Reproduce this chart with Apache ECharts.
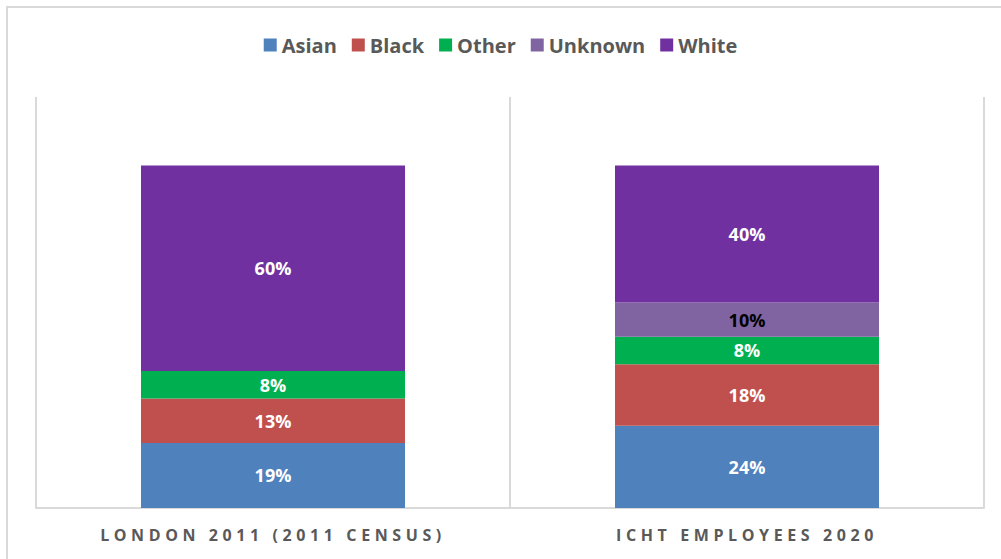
<!DOCTYPE html>
<html>
<head>
<meta charset="utf-8">
<script src="https://cdn.jsdelivr.net/npm/echarts@6/dist/echarts.min.js"></script>
<style>
  html, body { margin: 0; padding: 0; background: #fff; }
  #chart { width: 1001px; height: 559px; }
  /* spaced-out category labels */
  #chart text[style*="16px"] { letter-spacing: 4.6px; }
</style>
</head>
<body>
<div id="chart"></div>
<script>
const categories = ['LONDON 2011 (2011 CENSUS)', 'ICHT EMPLOYEES 2020']
const asian = [19, 24]
const black = [13, 18]
const other = [8, 8]
const unknown = ['-', 10]
const white = [60, 40]

const colors = {
  Asian: '#4f81bd',
  Black: '#c0504d',
  Other: '#00b050',
  Unknown: '#8064a2',
  White: '#7030a0'
}

const makeSeries = (name, data, labelColor) => ({
  name,
  type: 'bar',
  stack: 'total',
  data,
  barWidth: '55.7%',
  itemStyle: { color: colors[name] },
  label: {
    show: true,
    formatter: '{c}%',
    color: labelColor || '#fff',
    fontFamily: 'Open Sans',
    fontWeight: 'bold',
    fontSize: 18
  }
})

const chart = echarts.init(document.getElementById('chart'), null, { renderer: 'svg' })

chart.setOption({
  animation: false,
  backgroundColor: '#fff',
  graphic: [{
    type: 'rect',
    shape: { x: 7, y: 7, width: 1100, height: 700 },
    style: { fill: 'none', stroke: '#d9d9d9', lineWidth: 2 },
    silent: true
  }],
  legend: {
    top: 30,
    left: 'center',
    itemWidth: 13,
    itemHeight: 13,
    itemGap: 15,
    icon: 'rect',
    textStyle: {
      color: '#595959',
      fontFamily: 'Open Sans',
      fontWeight: 'bold',
      fontSize: 20
    },
    data: ['Asian', 'Black', 'Other', 'Unknown', 'White']
  },
  grid: { left: 36, right: 17, top: 97, bottom: 51 },
  xAxis: {
    type: 'category',
    data: categories,
    axisLine: { show: true, lineStyle: { color: '#d9d9d9', width: 2 } },
    axisTick: { show: false },
    splitLine: { show: true, lineStyle: { color: '#d9d9d9', width: 2 } },
    axisLabel: {
      color: '#595959',
      fontFamily: 'Open Sans',
      fontWeight: 'bold',
      fontSize: 16,
      margin: 19
    }
  },
  yAxis: {
    type: 'value',
    min: 0,
    max: 120,
    show: false,
    splitLine: { show: false }
  },
  series: [
    makeSeries('Asian', asian),
    makeSeries('Black', black),
    makeSeries('Other', other),
    makeSeries('Unknown', unknown, '#000'),
    makeSeries('White', white)
  ]
})
</script>
</body>
</html>
